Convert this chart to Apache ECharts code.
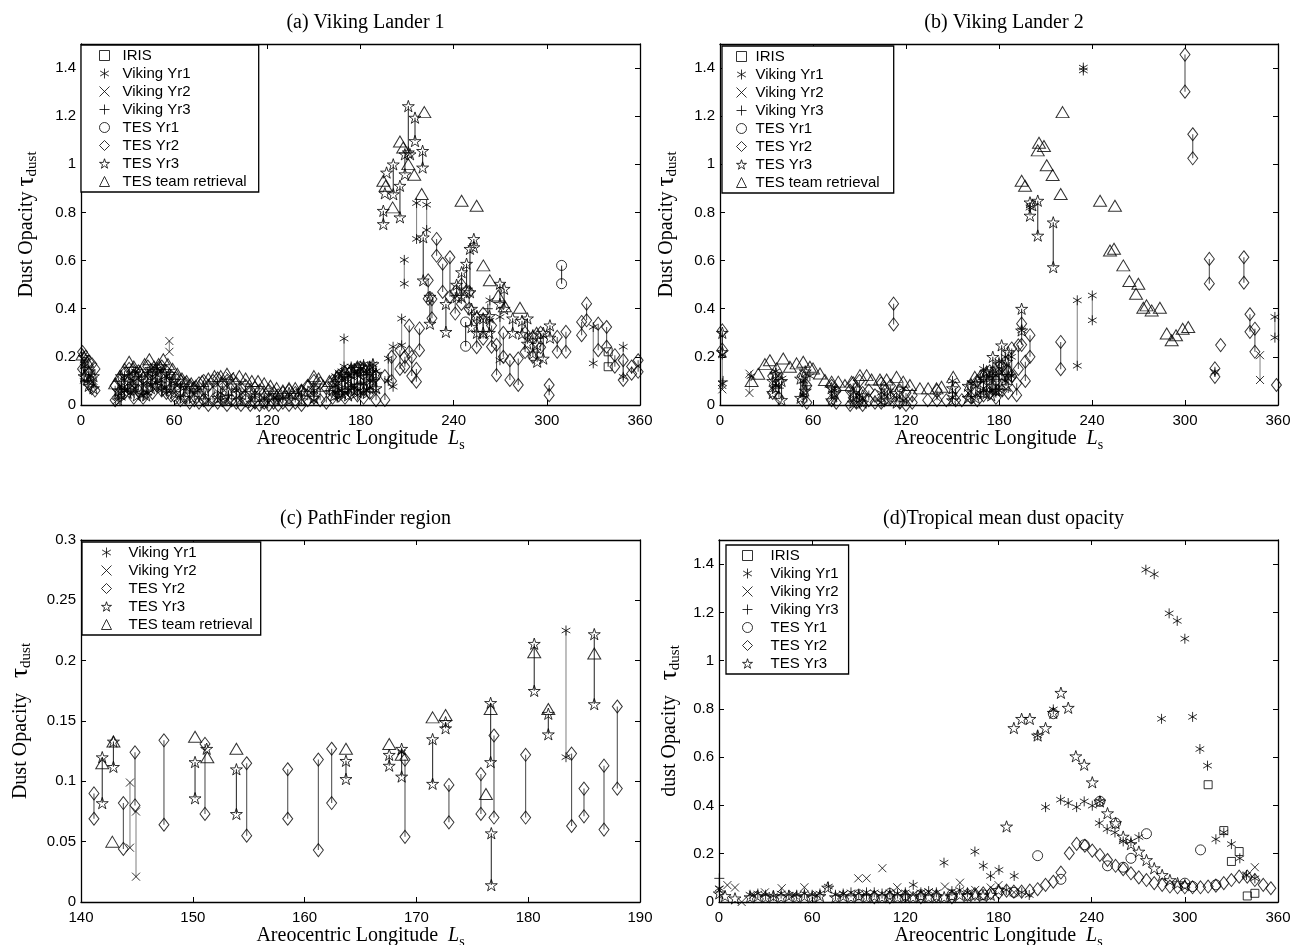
<!DOCTYPE html>
<html><head><meta charset="utf-8">
<script src="https://cdn.jsdelivr.net/npm/echarts/dist/echarts.min.js"></script>
<style>html,body{margin:0;padding:0;background:#fff}#c{width:1304px;height:945px}</style>
</head><body><div id="c"></div>
<script>
// ---------------- DATA: [Ls, tau] or [Ls, tauA, tauB] (pair joined by a vertical line)
const NAMES = ['IRIS','Viking Yr1','Viking Yr2','Viking Yr3','TES Yr1','TES Yr2','TES Yr3','TES team retrieval'];

// (a) Viking Lander 1
const A_IRIS = [[339.5,0.221,0.159]];
const A_VIK1 = [[2,0.16,0.1],[6,0.12],[26,0.08,0.03],[28,0.12,0.06],[32,0.11,0.05],[35,0.14,0.07],[40,0.09,0.04],[43,0.13,0.05],[46,0.12],[49,0.15,0.09],[52,0.1,0.06],[55,0.12,0.06],[58,0.09],[64,0.07,0.03],[75,0.06],[90,0.05,0.02],[100,0.06],[112,0.04],[125,0.03],[140,0.05],[150,0.06,0.02],[164,0.12,0.05],[165,0.08,0.03],[168,0.14,0.06],[169.4,0.276,0.16],[172,0.12,0.06],[174,0.16,0.08],[176,0.14,0.07],[178,0.12,0.04],[180,0.15,0.05],[182,0.17,0.09],[184,0.13,0.06],[186,0.15,0.07],[188,0.17,0.1],[190,0.14,0.06],[197.9,0.193,0.1],[201,0.242,0.076],[206.5,0.359,0.248],[208.2,0.603,0.504],[216.1,0.839,0.69],[222.6,0.832,0.727],[263.3,0.435,0.35],[269.8,0.366,0.186],[329.9,0.324,0.173],[349.2,0.242,0.117]];
const A_VIK2 = [[8,0.1],[23,0.02],[28,0.06],[33,0.08],[40,0.04],[47,0.11],[56.9,0.266,0.221],[62,0.08],[78,0.04],[92,0.1],[96,0.12],[104,0.05],[120,0.03],[135,0.04],[148,0.05],[162,0.1],[166,0.13],[168,0.04],[171,0.09],[176,0.08],[179,0.12],[184,0.06],[187,0.1]];
const A_VIK3 = [[4,0.1],[30,0.07],[45,0.09],[70,0.05],[95,0.04],[130,0.03],[160,0.06],[180,0.09],[262,0.4]];
const A_TES1 = [[247.7,0.345,0.244],[309.5,0.58,0.504]];
const A_TES2 = [[1,0.22,0.15],[3,0.2,0.12],[5,0.18,0.09],[7,0.17,0.07],[9,0.15,0.06],[22,0.08,0.02],[25,0.1,0.04],[28,0.13,0.05],[31,0.15,0.07],[34,0.12,0.03],[37,0.14,0.06],[40,0.11,0.03],[43,0.16,0.07],[46,0.13,0.05],[49,0.15,0.08],[52,0.16,0.06],[55,0.14,0.05],[58,0.12,0.04],[61,0.11,0.03],[64,0.1,0.02],[67,0.09,0.03],[70,0.08,0.01],[73,0.07,0.02],[76,0.09,0.01],[79,0.1,0.02],[82,0.08,0.0],[85,0.1,0.02],[88,0.11,0.01],[91,0.09,0.02],[94,0.1,0.0],[97,0.08,0.02],[100,0.09,0.01],[103,0.07,0.0],[106,0.08,0.02],[109,0.06,0.0],[112,0.07,0.01],[115,0.06,0.0],[118,0.05,0.01],[121,0.06,0.0],[124,0.05,0.01],[127,0.04,0.0],[130,0.05,0.01],[134,0.06,0.0],[138,0.05,0.01],[142,0.06,0.0],[146,0.08,0.02],[150,0.1,0.03],[154,0.09,0.02],[158,0.07,0.01],[162,0.1,0.03],[166,0.12,0.04],[170,0.13,0.03],[174,0.14,0.05],[178,0.15,0.04],[182,0.13,0.03],[186,0.14,0.05],[190,0.12,0.02],[195.7,0.12,0.021],[200,0.2,0.1],[205.4,0.228,0.15],[208.6,0.2,0.159],[211.4,0.33,0.22],[213,0.2,0.12],[216,0.15,0.097],[218,0.318,0.228],[223.6,0.518,0.442],[226,0.44,0.36],[229,0.69,0.62],[232.9,0.587,0.47],[237.6,0.614,0.45],[241,0.47,0.38],[245,0.5,0.42],[250,0.47,0.4],[254.8,0.36,0.24],[259,0.38,0.276],[264.4,0.33,0.242],[267.6,0.25,0.124],[272,0.3,0.2],[276.2,0.186,0.104],[281.6,0.193,0.083],[286,0.3,0.22],[291,0.28,0.2],[296,0.3,0.24],[301.5,0.083,0.041],[306.7,0.283,0.221],[312.3,0.304,0.221],[322.4,0.345,0.29],[325.6,0.421,0.352],[333.1,0.338,0.228],[338.5,0.324,0.242],[343.8,0.207,0.159],[349.2,0.186,0.104],[354.6,0.16,0.13],[358.8,0.186,0.138]];
const A_TES3 = [[2,0.2,0.12],[5,0.14,0.08],[8,0.12,0.07],[24,0.06,0.02],[26,0.12,0.06],[30,0.1,0.05],[33,0.15,0.08],[36,0.12,0.04],[39,0.13,0.05],[42,0.1,0.04],[45,0.15,0.07],[48,0.14,0.08],[51,0.16,0.09],[54,0.13,0.06],[57,0.13,0.07],[60,0.1,0.05],[66,0.08,0.03],[72,0.07,0.03],[80,0.06,0.02],[88,0.07,0.03],[95,0.06,0.02],[102,0.05,0.02],[110,0.05,0.01],[118,0.04,0.01],[126,0.04,0.02],[134,0.05,0.02],[142,0.06,0.02],[150,0.07,0.03],[163,0.09,0.04],[166,0.1,0.05],[168,0.13,0.05],[170,0.12,0.06],[172,0.11,0.04],[174,0.13,0.07],[176,0.15,0.06],[178,0.15,0.08],[180,0.16,0.08],[182,0.14,0.06],[184,0.12,0.05],[186,0.16,0.09],[188,0.17,0.1],[190,0.13,0.07],[194.7,0.807,0.752],[195.7,0.88],[196.8,0.966],[201.1,1.0,0.876],[205.4,0.911,0.78],[208.6,1.042,0.959],[210.8,1.242,1.05],[211.9,1.042],[215.1,1.194,1.097],[220,1.056,0.987],[220.4,0.697,0.518],[224.7,0.45,0.338],[235,0.42,0.304],[241.9,0.5,0.449],[245.1,0.552,0.45],[248.3,0.587,0.48],[250.5,0.649,0.469],[253,0.69,0.656],[251.5,0.4,0.324],[255,0.37,0.3],[259,0.36,0.3],[263,0.37,0.3],[269.8,0.504,0.42],[272.5,0.483,0.4],[278,0.36,0.3],[284,0.35,0.296],[287.5,0.36,0.255],[291,0.29,0.214],[293.8,0.25,0.18],[297.7,0.3,0.193],[302,0.331,0.28]];
const A_TEAM = [[1,0.21],[4,0.18],[22,0.09],[25,0.12],[28,0.15],[31,0.18],[34,0.16],[38,0.14],[41,0.17],[44,0.19],[47,0.16],[50,0.17],[53,0.19],[56,0.17],[59,0.15],[62,0.13],[65,0.11],[68,0.1],[71,0.09],[74,0.08],[78,0.1],[82,0.11],[86,0.12],[90,0.12],[94,0.13],[98,0.11],[102,0.12],[106,0.11],[110,0.1],[114,0.1],[118,0.09],[122,0.08],[126,0.07],[130,0.06],[134,0.07],[138,0.07],[142,0.06],[146,0.08],[150,0.12],[153,0.11],[156,0.08],[160,0.1],[165,0.12],[170,0.14],[174,0.15],[178,0.16],[182,0.16],[186,0.15],[194.7,0.932],[196.2,0.911],[200.7,0.821],[205.4,1.095],[207.5,1.07],[210.8,1.001],[214.6,0.957],[219.4,0.877],[221.1,1.217],[245.1,0.849],[254.8,0.828],[259.1,0.58],[263.3,0.518],[268.7,0.455],[273,0.41],[282.7,0.404],[293.4,0.3]];

// (b) Viking Lander 2
const B_IRIS = [];
const B_VIK1 = [[1.5,0.21,0.09],[20,0.12],[36,0.14,0.08],[40,0.11],[54,0.1,0.04],[58,0.12],[74,0.06],[90,0.04],[104,0.05,0.01],[118,0.07,0.02],[150,0.1,0.03],[162,0.09,0.03],[168,0.11,0.05],[170,0.15,0.07],[176,0.13,0.06],[180,0.18,0.06],[184,0.2,0.1],[188,0.2,0.12],[194.6,0.31],[200,0.82],[230.5,0.435,0.163],[234.4,1.402,1.39],[240.2,0.455,0.352],[319.3,0.138],[358,0.366,0.28]];
const B_VIK2 = [[1.5,0.083,0.065],[19,0.13,0.05],[36,0.09],[54,0.05],[73,0.03],[90,0.02],[112,0.04],[140,0.03],[160,0.05],[172,0.08],[348.4,0.207,0.104]];
const B_VIK3 = [[2,0.1],[38,0.07],[56,0.08],[150,0.05],[188,0.12]];
const B_TES1 = [];
const B_TES2 = [[1.5,0.31,0.23],[34,0.12,0.05],[38,0.1,0.03],[53,0.12,0.02],[56,0.08,0.01],[72,0.08,0.02],[75,0.06,0.01],[84,0.06,0.0],[86,0.09,0.03],[88,0.07,0.01],[90,0.1,0.02],[92,0.05,0.0],[96,0.06,0.02],[100,0.04,0.01],[104,0.09,0.01],[106,0.07,0.02],[110,0.08,0.03],[112,0.421,0.335],[116,0.06,0.01],[120,0.05,0.0],[124,0.04,0.01],[134,0.02],[140,0.06,0.02],[146,0.02],[152,0.07,0.02],[156,0.02],[162,0.08,0.03],[166,0.1,0.02],[170,0.12,0.04],[174,0.14,0.05],[178,0.1,0.03],[182,0.16,0.06],[186,0.14,0.05],[188.2,0.235,0.12],[191.4,0.09,0.041],[192.5,0.248,0.15],[194.6,0.338,0.25],[197,0.18,0.1],[200,0.29,0.2],[219.8,0.262,0.149],[300,1.456,1.302],[305,1.125,1.025],[315.7,0.607,0.504],[319.3,0.152,0.117],[323,0.249],[338,0.614,0.508],[341.9,0.377,0.304],[345.1,0.317,0.221],[359,0.083]];
const B_TES3 = [[1.5,0.3,0.22],[34,0.1,0.05],[36,0.13,0.07],[39.7,0.1,0.021],[52,0.11,0.03],[55,0.14,0.06],[72,0.07,0.02],[74,0.05],[86,0.05,0.01],[92,0.04,0.01],[108,0.06,0.02],[114,0.05,0.01],[150,0.07,0.02],[160,0.08,0.03],[165,0.09,0.03],[170,0.11,0.05],[172,0.14,0.05],[175,0.12,0.04],[176,0.2,0.08],[178,0.15,0.06],[180,0.17,0.06],[181.7,0.248,0.12],[185,0.18,0.08],[186,0.22,0.12],[194.6,0.4,0.31],[200,0.842,0.787],[201.5,0.83],[205,0.849,0.704],[215,0.759,0.573]];
const B_TEAM = [[20.4,0.1],[24.7,0.13],[29,0.17],[32.2,0.186],[36.5,0.152],[40.8,0.193],[45.1,0.159],[49.4,0.173],[53.7,0.18],[58,0.159],[60,0.152],[64.5,0.131],[67.7,0.104],[72,0.097],[76.3,0.097],[80.6,0.083],[84.9,0.097],[90.3,0.124],[94.6,0.124],[97.8,0.106],[103.2,0.106],[107.5,0.106],[113.9,0.117],[118.2,0.097],[122.5,0.083],[129,0.069],[134.3,0.069],[139.7,0.069],[142.9,0.076],[150.5,0.117],[164.4,0.117],[168,0.12],[172,0.13],[176,0.14],[180,0.13],[185,0.15],[194.6,0.932],[196.8,0.911],[205,1.058],[205.8,1.09],[209,1.076],[210.8,0.996],[214.6,0.956],[219.8,0.877],[221,1.217],[245.2,0.849],[251.6,0.642],[254.2,0.649],[254.8,0.828],[260.2,0.58],[264.1,0.515],[268.4,0.462],[269.9,0.504],[273.1,0.404],[275.2,0.414],[278.5,0.393],[283.8,0.404],[288.2,0.297],[291.4,0.269],[294.2,0.29],[298.5,0.317],[302.1,0.324]];

// (c) PathFinder region
const C_VIK1 = [[183.38,0.225,0.12],[168.68,0.124]];
const C_VIK2 = [[144.38,0.099,0.045],[144.92,0.075,0.021]];
const C_TES2 = [[141.16,0.09,0.069],[143.79,0.082,0.044],[144.83,0.124,0.08],[147.42,0.134,0.064],[151.09,0.131,0.073],[154.82,0.115,0.055],[158.49,0.11,0.069],[161.23,0.118,0.043],[162.42,0.127,0.082],[168.98,0.118,0.054],[172.91,0.097,0.066],[175.77,0.106,0.073],[176.94,0.138,0.07],[179.77,0.122,0.07],[183.88,0.123,0.063],[184.99,0.094,0.071],[186.78,0.113,0.06],[187.97,0.162,0.094]];
const C_TES3 = [[141.9,0.12,0.082],[142.9,0.133,0.112],[150.2,0.116,0.086],[151.24,0.127],[153.9,0.11,0.073],[163.7,0.117,0.102],[167.57,0.122,0.113],[168.68,0.127,0.104],[171.45,0.135,0.098],[172.61,0.149,0.144],[176.64,0.165,0.116],[176.7,0.057,0.014],[180.54,0.214,0.175],[181.8,0.156,0.139],[185.91,0.222,0.164]];
const C_TEAM = [[141.9,0.115],[142.8,0.05],[142.9,0.133],[150.2,0.137],[151.3,0.12],[153.9,0.127],[163.7,0.127],[167.57,0.131],[168.68,0.122],[171.45,0.153],[172.61,0.155],[176.22,0.0895],[176.64,0.16],[180.54,0.207],[181.8,0.16],[185.91,0.206]];

// (d) Tropical mean dust opacity
const D_IRIS = [[315,0.486],[325.1,0.296],[330,0.168],[335,0.209],[340.2,0.025],[345.1,0.036]];
const D_VIK1 = [[0.2,0.057],[20,0.03],[25,0.035],[30,0.03],[35,0.025],[40,0.035],[45,0.03],[50,0.03],[55,0.035],[60,0.03],[65,0.035],[70.4,0.064],[75,0.03],[80,0.035],[85,0.04],[90,0.035],[95,0.04],[100,0.04],[105,0.035],[110,0.04],[115,0.035],[120,0.04],[125.1,0.071],[130,0.04],[135,0.045],[140,0.04],[144.9,0.163],[150,0.045],[155,0.05],[160,0.04],[164.8,0.209],[170.2,0.15],[174.9,0.108],[180.3,0.133],[185,0.05],[190.1,0.108],[195,0.04],[199.8,0.029],[205.2,0.69],[210.3,0.393],[215.3,0.798],[220,0.424],[224.9,0.41],[230.3,0.393],[235.2,0.417],[240.4,0.399],[245.3,0.417],[244.9,0.327],[250,0.302],[255,0.288],[260.3,0.251],[265.3,0.251],[270.4,0.269],[274.9,1.377],[280.3,1.358],[285,0.759],[289.9,1.196],[295.1,1.165],[300,1.091],[305,0.767],[309.7,0.634],[314.6,0.565],[320,0.26],[325.1,0.288],[330,0.24],[335.4,0.181],[339.7,0.112],[345.1,0.098]];
const D_VIK2 = [[0.2,0.05],[5.4,0.07],[10.3,0.06],[14.6,0.0],[22,0.03],[29.6,0.04],[40.4,0.057],[48,0.03],[55,0.061],[63,0.03],[80,0.03],[89.7,0.098],[95,0.098],[105.2,0.14],[114.8,0.061],[125,0.03],[135,0.04],[145.5,0.064],[155.2,0.08],[165,0.05],[175,0.06],[180,0.07],[190,0.04],[340,0.11],[345.1,0.144]];
const D_VIK3 = [[0.2,0.098],[95,0.03],[120,0.03]];
const D_TES1 = [[90,0.03],[110,0.035],[130,0.03],[150,0.03],[170,0.03],[190,0.04],[205.2,0.192],[215.3,0.78],[220.2,0.094],[235.2,0.237],[245.3,0.417],[250.2,0.15],[255.4,0.327],[260.3,0.144],[265.3,0.181],[275.3,0.283],[300,0.078],[305,0.064],[310.1,0.216],[320,0.071]];
const D_TES2 = [[100,0.02],[110,0.02],[120,0.025],[130,0.02],[140,0.025],[150,0.02],[160,0.03],[164.8,0.033],[170.2,0.036],[175,0.036],[180.3,0.039],[185.2,0.047],[189.9,0.043],[194.9,0.043],[200.2,0.047],[205.2,0.053],[210.3,0.071],[215.3,0.084],[220.2,0.122],[225.6,0.202],[230.3,0.241],[235.6,0.233],[240.4,0.213],[245.3,0.195],[250.2,0.174],[255.4,0.15],[260.3,0.136],[265.3,0.119],[270.4,0.102],[275.3,0.091],[280.3,0.078],[285.4,0.071],[290.4,0.064],[295.3,0.061],[300,0.061],[305,0.061],[310.1,0.061],[315,0.064],[320,0.068],[325.1,0.078],[330,0.091],[335,0.105],[340.2,0.105],[345.1,0.091],[350.5,0.071],[355.4,0.057]];
const D_TES3 = [[0.2,0.036],[3.9,0.025],[10.3,0.015],[20,0.02],[25,0.025],[30,0.02],[35,0.025],[40,0.02],[45,0.025],[50,0.02],[55,0.025],[60,0.02],[65,0.025],[70,0.06],[75,0.02],[80,0.025],[85,0.02],[90,0.025],[95,0.02],[100,0.025],[105,0.02],[110,0.025],[115,0.02],[120,0.025],[125,0.02],[130,0.025],[135,0.02],[140,0.025],[145,0.02],[150,0.025],[155,0.03],[160,0.025],[165,0.03],[170,0.025],[175,0.03],[180,0.05],[185.2,0.313],[189.9,0.721],[194.9,0.759],[200.2,0.759],[205.2,0.69],[210.3,0.721],[215.3,0.784],[220.2,0.867],[224.9,0.805],[229.8,0.604],[235.2,0.569],[240.4,0.496],[245.3,0.417],[250.2,0.368],[255.4,0.327],[260.3,0.271],[265.3,0.24],[270.4,0.209],[275.3,0.174],[280.3,0.14],[285.4,0.112],[290.4,0.091],[295.3,0.078],[300,0.07]];

// axis tick settings [min, max, interval, label of max shown]
const X_FULL = [0, 360, 60, true];
const X_PF = [140, 190, 10, true];
const Y_FULL = [0, 1.5, 0.2, false];
const Y_PF = [0, 0.3, 0.05, true];

// ---------------- STYLE
const ASTER = 'path://M0,-10L0,10M-8.66,-5L8.66,5M-8.66,5L8.66,-5';
const XMARK = 'path://M-7,-7L7,7M-7,7L7,-7';
const PLUS = 'path://M0,-10L0,10M-10,0L10,0';
const STAR = 'path://M0,-10L2.25,-3.09L9.51,-3.09L3.63,1.18L5.88,8.09L0,3.82L-5.88,8.09L-3.63,1.18L-9.51,-3.09L-2.25,-3.09Z';
const SYM = {
  'IRIS': ['rect', 8],
  'Viking Yr1': [ASTER, 10],
  'Viking Yr2': [XMARK, 8],
  'Viking Yr3': [PLUS, 10],
  'TES Yr1': ['circle', 10],
  'TES Yr2': ['diamond', [10, 13]],
  'TES Yr3': [STAR, 12],
  'TES team retrieval': ['triangle', [13, 11]]
};
const LCOL = {'IRIS':'#333','Viking Yr1':'#8a8a8a','Viking Yr2':'#8a8a8a','Viking Yr3':'#8a8a8a','TES Yr1':'#333','TES Yr2':'#555','TES Yr3':'#333','TES team retrieval':'#333'};
const HOLLOW = {color:'rgba(0,0,0,0)', borderColor:'#000', borderWidth:1};

const PANELS = [
  {grid:{left:81,top:44,width:559,height:361}, x:X_FULL, y:Y_FULL, lines:true,
   title:'(a) Viking Lander 1', yname:'{a|Dust Opacity }{t|τ}{s|dust}', ygap:41,
   data:{'IRIS':A_IRIS,'Viking Yr1':A_VIK1,'Viking Yr2':A_VIK2,'Viking Yr3':A_VIK3,'TES Yr1':A_TES1,'TES Yr2':A_TES2,'TES Yr3':A_TES3,'TES team retrieval':A_TEAM},
   legend:{names:NAMES, left:81, top:45, pad:[3,12,3,18], tp:8}},
  {grid:{left:720,top:44,width:558,height:361}, x:X_FULL, y:Y_FULL, lines:true,
   title:'(b) Viking Lander 2', yname:'{a|Dust Opacity }{t|τ}{s|dust}', ygap:40,
   data:{'IRIS':B_IRIS,'Viking Yr1':B_VIK1,'Viking Yr2':B_VIK2,'Viking Yr3':B_VIK3,'TES Yr1':B_TES1,'TES Yr2':B_TES2,'TES Yr3':B_TES3,'TES team retrieval':B_TEAM},
   legend:{names:NAMES, left:722, top:46, pad:[3,14,3,14], tp:4}},
  {grid:{left:81,top:540,width:559,height:362}, x:X_PF, y:Y_PF, lines:true,
   title:'(c) PathFinder region', yname:'{a|Dust Opacity   }{t|τ}{s|dust}', ygap:47,
   data:{'Viking Yr1':C_VIK1,'Viking Yr2':C_VIK2,'TES Yr2':C_TES2,'TES Yr3':C_TES3,'TES team retrieval':C_TEAM},
   legend:{names:['Viking Yr1','Viking Yr2','TES Yr2','TES Yr3','TES team retrieval'], left:82, top:542, pad:[3,8,3,19], tp:12}},
  {grid:{left:719,top:540,width:559,height:362}, x:X_FULL, y:Y_FULL, lines:false,
   title:'(d)Tropical mean dust opacity', yname:'{a|dust Opacity   }{t|τ}{s|dust}', ygap:36,
   data:{'IRIS':D_IRIS,'Viking Yr1':D_VIK1,'Viking Yr2':D_VIK2,'Viking Yr3':D_VIK3,'TES Yr1':D_TES1,'TES Yr2':D_TES2,'TES Yr3':D_TES3},
   legend:{names:['IRIS','Viking Yr1','Viking Yr2','Viking Yr3','TES Yr1','TES Yr2','TES Yr3'], left:726, top:545, pad:[3,10,3,16], tp:13}}
];

const SERIF = 'Liberation Serif';
const SANS = 'Liberation Sans';
const axisLine = {show:true, onZero:false, lineStyle:{color:'#000', width:1.3}};
const axisTick = {show:true, inside:true, length:5, lineStyle:{color:'#000', width:1}};
const lbl = {color:'#000', fontFamily:SANS, fontSize:15};

const grids = [], xAxes = [], yAxes = [], titles = [], legends = [], series = [];
PANELS.forEach((p, gi) => {
  grids.push(Object.assign({outerBoundsMode:'none', containLabel:false}, p.grid));
  const cx = p.grid.left + p.grid.width / 2;
  titles.push({text:p.title, left:cx, top:p.grid.top - 36, textAlign:'center',
    textStyle:{fontFamily:SERIF, fontSize:20, fontWeight:'normal', color:'#000'}});
  xAxes.push({gridIndex:gi, type:'value', position:'bottom', min:p.x[0], max:p.x[1], interval:p.x[2],
    axisLine, axisTick, splitLine:{show:false}, axisLabel:Object.assign({margin:8, showMaxLabel:p.x[3], showMinLabel:true}, lbl),
    name:'{n|Areocentric Longitude}   {i|L}{s|s}', nameLocation:'middle', nameGap:20,
    nameTextStyle:{rich:{
      n:{fontFamily:SERIF, fontSize:20, color:'#000'},
      i:{fontFamily:SERIF, fontSize:20, fontStyle:'italic', color:'#000'},
      s:{fontFamily:SERIF, fontSize:14, color:'#000', padding:[12,0,0,0]}}}});
  xAxes.push({gridIndex:gi, type:'value', position:'top', min:p.x[0], max:p.x[1], interval:p.x[2],
    axisLine, axisTick, splitLine:{show:false}, axisLabel:{show:false}});
  yAxes.push({gridIndex:gi, type:'value', position:'left', min:p.y[0], max:p.y[1], interval:p.y[2],
    axisLine, axisTick, splitLine:{show:false},
    axisLabel:Object.assign({margin:5, showMaxLabel:p.y[3], showMinLabel:true}, lbl),
    name:p.yname, nameLocation:'middle', nameRotate:90, nameGap:p.ygap,
    nameTextStyle:{rich:{
      a:{fontFamily:SERIF, fontSize:20, color:'#000'},
      t:{fontFamily:SERIF, fontSize:25, color:'#000'},
      s:{fontFamily:SERIF, fontSize:15, color:'#000', padding:[12,0,0,0]}}}});
  yAxes.push({gridIndex:gi, type:'value', position:'right', min:p.y[0], max:p.y[1], interval:p.y[2],
    axisLine, axisTick, splitLine:{show:false}, axisLabel:{show:false}});

  NAMES.forEach(name => {
    const arr = p.data[name];
    if (!arr) return;
    if (p.lines) {
      series.push({type:'custom', name:'seg', xAxisIndex:2*gi, yAxisIndex:2*gi,
        data: arr.filter(d => d.length > 2), encode:{x:0, y:[1,2]}, silent:true, z:1, clip:true,
        renderItem:(params, api) => {
          const a = api.coord([api.value(0), api.value(1)]);
          const b = api.coord([api.value(0), api.value(2)]);
          return {type:'line', shape:{x1:a[0], y1:a[1], x2:b[0], y2:b[1]},
            style:{stroke:LCOL[name], lineWidth:1.1}};
        }});
    }
    const pts = [];
    arr.forEach(d => { pts.push([d[0], d[1]]); if (d.length > 2) pts.push([d[0], d[2]]); });
    series.push({type:'scatter', name, xAxisIndex:2*gi, yAxisIndex:2*gi, data:pts,
      symbol:SYM[name][0], symbolSize:SYM[name][1], symbolKeepAspect:true, silent:true, z:2,
      itemStyle:HOLLOW, emphasis:{disabled:true}, clip:true});
  });

  const L = p.legend;
  legends.push({data:L.names.map(n => ({name:n, itemStyle:HOLLOW})), orient:'vertical', left:L.left, top:L.top, padding:L.pad,
    itemGap:3, itemWidth:10, itemHeight:10, backgroundColor:'#fff', borderColor:'#000', borderWidth:1.3,
    selectedMode:false,
    textStyle:{fontFamily:SANS, fontSize:15, color:'#000', padding:[0,0,0,L.tp]}});
});

const chart = echarts.init(document.getElementById('c'), null, {renderer:'canvas'});
chart.setOption({
  animation:false, backgroundColor:'#fff',
  title:titles, grid:grids, xAxis:xAxes, yAxis:yAxes, legend:legends, series,
  tooltip:{show:false}
});
</script></body></html>
